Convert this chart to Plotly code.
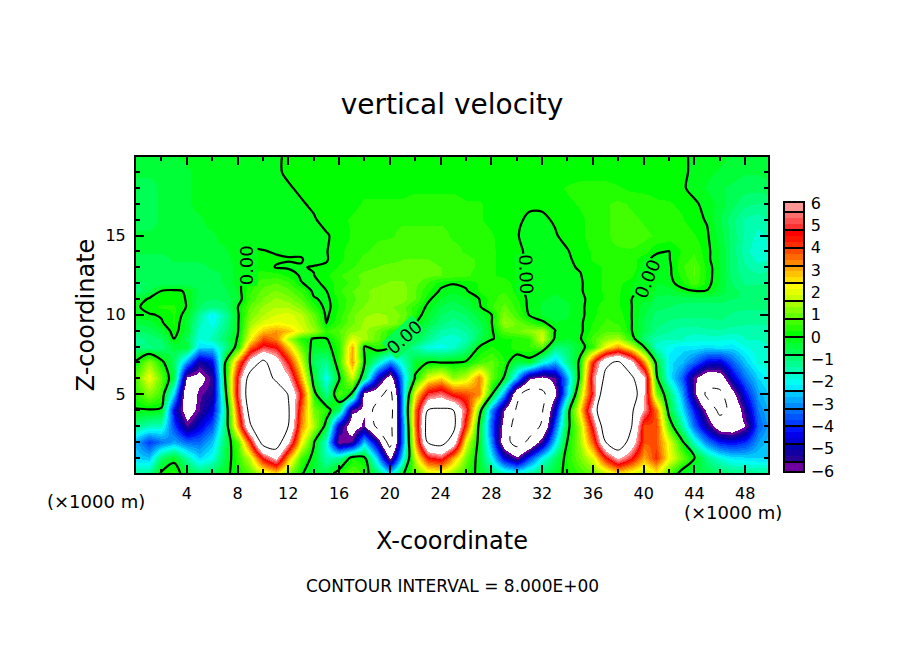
import plotly.graph_objects as go

X = list(range(51))
Y = [0, 1, 2, 3, 4, 5, 6, 7, 8, 8.5, 9, 9.5, 10, 10.5, 11, 11.5, 12, 12.5, 13, 13.5, 14, 15, 16, 17, 18, 19, 20]

W = [
 # y=0
 [-1.3,-1.2,.1,.4,-.4,-.9,-.7,-.2,.3, .8,1.8,2.5,1.2,.1, -.5,-.5,.4, .9,.4,-.8,-2.3,-.1, .8,1.8,2,1.3,.5,-.2, -.8,-1.5,-1.8,-1.3,-.8,-.3,.2, .6,1,1.7,2.5,2,1.5,2.3,.7,-.3, -.5,-.6,-.8,-1,-1.1,-1.2,-1.2],
 # y=1
 [-2.4,-2.6,-.8,-.2,-1.4,-2.4,-1.9,-.5,.5, 1.8,4.7,6.3,3,.6, -.2,-1.5,-1.2, .2,.1,-2.5,-6.2,-2, 1.8,4.5,5,3,1,-.3, -2,-4.5,-5.8,-3.8,-2,-.8,.3, 1.1,2,4.5,6.2,4.8,3,4.2,2.2,1, .02,-1.1,-1.8,-2.2,-2.3,-2.4,-2.4],
 # y=2
 [-2.8,-3.9,-3.3,-2.8,-3.4,-3.4,-2.6,-.7,.8, 4.3,9,9.5,6.2,2.3, .1,-1.8,-6, -5.5,-2.5,-5,-9,-3, 3,8.3,9,7,2,-.2, -3,-7,-9,-7.6,-5.3,-2.3,.05, 1.4,3.8,8,10,7,3.8,3.8,2,.2, -1.7,-3.2,-4.2,-4.4,-4,-2.9,-2.4],
 # y=3
 [-1.1,-1.5,-1.6,-3.8,-5.6,-4.6,-3.6,-1,3.3, 7.8,10,10,8,3.3, 1.5,-.3,-5, -6.8,-5.8,-8.5,-9,-3, 3.5,9,9.5,8.7,4,-.1, -3.5,-6.5,-9,-9,-7.8,-3.5,-.3, 1.6,5,9.5,12,8.3,3.8,4, .6,-1.3,-3.4,-5.2,-6.8,-7,-6,-3.5,-2.7],
 # y=4
 [-.05,-.05,-.1,-4.5,-6.8,-5.6,-4.6,-1.2,4.2, 8.9,10,10,8.3,3.7, 1,.4,-.8, -5.8,-6.2,-9,-9.5,-2.5, 3.5,8,8.3,8,5,.8, -3,-6,-8.2,-9.5,-8.2,-4.7,-.5, 2.5,6.5,11,12,8.5,5.8,3.5, -.4,-2.2,-4.2,-6.3,-8.6,-7.5,-5.3,-3.2,-2.5],
 # y=5
 [.4,1.2,.6,-2.5,-7.5,-5.7,-5.3,-.6,5.2, 9.5,10,10,7.9,4.5, .3,-1.2,.8,-.1, -6.5,-7,-9,-2.5, 2.3,5,5.5,4.3,3.9,3.3,.2, -3,-7.5,-9,-8.6,-6.2,-2.5,1.5, 5,10,11,10,6,1.2,-.8, -2.8,-5.6,-8.5,-8.5,-6.5,-4.3,-2.8,-2.3],
 # y=6
 [.8,2.2,.9,-.6,-6.3,-6.5,-5.4,-.1,5, 9,9.5,7.6,6.3,3, -.4,-2,-.1, 1.8,-.8, -4.5,-6.8,-2.6,.1, 2,2.6,1.3,1.8,3.4,1, -.05,-2.8,-5.8,-6.3,-5.6,-2.8,.4, 5.5,8.5,9.5,8.5,6.3,.2, -2.1,-3.5,-5.8,-7,-6.8,-4.7,-3.3,-2.4,-2],
 # y=7
 [.1,1.3,.2,-.8,-3,-5.2,-4.5,-.1,3.5, 6.6,8.5,6.8,4.6,1.9, -.8,-1.2,.5, 3.2, .05, -1.5,-3,-1.6,-.3, -.02,-.02,-.02, .1,.6,.9,.3, -.5,-.2,-1.8,-2.7,-1.2,.2, 4.5,7.6,8.3,6.5,3.3, -.2,-2.3,-2.6,-3.4,-4.5,-4.6,-3.5,-2.5,-1.8,-1.6],
 # y=8
 [-1,-1.1,-1,-.4,-.3,-2.4,-2.4,-1.2,.3, 3.6,5,4.6,2.7,.9, -.3,-.2,.4, 3, -.05,.5,.1, -.7,-1.3,-1.9,-2,-1.7,-1.1,-.02,.3, .05,.5,.5,.8,-1, -.8,-.3,.5,2.3,3.2,2, .05,-1.7,-2,-2.3,-2.2,-2.3,-2.2,-2.3,-1.9,-1.7,-1.6],
 # y=8.5
 [-1.2,-1,-.8,.02,-.7,-1.9,-1.5,-.8,.05, 2.2,4,3.4,1.6,.3, -.05,-.02, .6,2,1.5,.9,.3, -.2,-.5,-1.2,-1.7,-1.8,-1.5,-.6,-.05, .2,.3,.5,1.9,-.1, -.3,-.05,.7,1.3,1.6,.4, -1,-1.5,-1.6,-1.6,-1.8,-1.8,-1.8,-1.9,-1.6,-1.6,-1.5],
 # y=9
 [-.8,-.7,-.4,.2,-.4,-1.7,-1.7,-1,-.1, 1.8,2.8,3.2,2.8,2,1.4, .5,.8,1.3,1.4,1,.4,.05, -.2,-.9,-1.4,-1.5,-1.3,-.8,-.1, .8,1,1.3,1.6, .02, -.2,-.1, .4,.8,.7,.05, -.6,-1.1,-1.3,-1.5,-1.5,-1.4,-1.4,-1.5,-1.5,-1.5,-1.4],
 # y=9.5
 [-.5,-.4,-.05,.3,-.4,-1.5,-2,-1.2,-.1, 1.4,2,2.2,2.1,1.8,1.1, -.02, .5,1,1.4,1.5,1.3,.8,.02, -.5,-1,-1.2,-1,-.6,-.05, 1.4,1,.6, .1,-.25,-.2,-.08, .3,.6,.5,.05, -.6,-1,-1.1,-1.2,-1.2,-1.2,-1.1,-1.2,-1.3,-1.3,-1.3],
 # y=10
 [-.1,-.05,.05,.3,-.2,-1.3,-2.2,-1.3,-.1, 1.1,1.6,1.9,2,1.7,.9, -.1, .4,1,1.3,1.4,1.3,1,.3, -.3,-.8,-1,-.8,-.4, -.03, 1.2,.6, -.05,-.3,-.4,-.3,-.1, .2,.5,.4,.03, -.5,-.9,-1,-1,-1,-1,-1,-1.1,-1.2,-1.2,-1.2],
 # y=10.5
 [-.1,.2,.3,.3,-.02,-.8,-1.1,-.9,-.03, .9,1.4,1.6,1.6,1.2,.4, -.15, .3,.8,1.1,1.2,1.1,.9,.4, -.1,-.6,-.7,-.5,-.1, .5,.9,.4, -.1,-.3,-.4,-.3,-.1, .2,.4,.3,.03, -.4,-.7,-.8,-.9,-.9,-.9,-.9,-1,-1,-1,-1],
 # y=11
 [-.3,.05,.2,.2,-.03,-.7,-.8,-.7,-.3, .6,1.1,1.4,1.2,.8,.05, -.1, .3,.7,1,1.2,1.3,1.2,.8,.1, -.3,-.5,-.3, -.02, .4,.7,.3, -.1,-.25,-.3,-.25,-.1, .15,.3,.3,.02, -.3,-.6,-.7,-.7,-.7,-.7,-.7,-.8,-.8,-.8,-.8],
 # y=11.5
 [-.9,-.6,.02,.1,-.05,-.6,-.7,-.6,-.2, .5,.9,1.1,.9,.5, -.1, -.01,.5,.8,1,1.2,1.3,1.2,.8,.3, -.05,-.2,-.05, .3,.5,.5,.15, -.1,-.2,-.25,-.2,-.05, .2,.3,.3,.1, -.1,-.4,-.4,-.15, -.02,-.02, -.4,-.7,-.9,-.9,-.9],
 # y=12
 [-.8,-.8,-.7,-.7,-.7,-.7,-.6,-.5,-.15, .4,.7,.8,.6,.02, -.1, .1,.4,.6,.9,1,1.1,1.1,.9,.5,.1,.03,.1,.3,.4,.4,.15, -.1,-.2,-.2,-.15,-.05, .2,.3,.3,.2,.03, -.3,-.15, .2,.7,.15, -.3,-.8,-1.1,-1.1,-1],
 # y=12.5
 [-.7,-.7,-.6,-.6,-.6,-.6,-.6,-.5,-.1, .3,.4,.4,.2, -.05, -.01,.2,.5,.7,.9,1,1,1,1,.9,.8,.7,.6,.4,.3,.2,.1, -.1,-.2,-.2,-.1,-.02, .2,.3,.4,.3,.05, -.2,-.1, .4,.8,.2, -.3,-.9,-1.2,-1.3,-1.2],
 # y=13
 [-.7,-.6,-.6,-.6,-.6,-.6,-.5,-.5,-.1, .2,.15, -.02,-.05, -.02,.02,.05, .3,.5,.7,.8,.9,.9,.9,.9,.8,.7,.6,.5,.3,.2,.15, -.1,-.2,-.15,-.05, .03,.2,.3,.4,.4,.1, -.15,-.1, .5,.8,.2, -.3,-.9,-1.3,-1.5,-1.4],
 # y=13.5
 [-.6,-.6,-.6,-.5,-.5,-.5,-.4,-.4,-.1, .1,.1,.05,.02, .02,-.1,-.03, .2,.4,.6,.7,.7,.8,.8,.8,.7,.6,.6,.5,.3,.2,.1, -.1,-.2,-.15,-.05, .1,.3,.4,.5,.4,.1, -.1,-.03, .4,.6,.1, -.3,-.9,-1.4,-1.7,-1.6],
 # y=14
 [-.5,-.5,-.5,-.5,-.5,-.4,-.3,-.3,-.1, .05,.02, -.03,-.05,-.05,-.05,-.02, .2,.4,.5,.6,.7,.7,.7,.7,.6,.6,.5,.4,.3,.2,.1, -.1,-.15,-.1,-.02, .15,.3,.5,.5,.5,.4,.05, -.01,.3,.5,.1, -.3,-.9,-1.5,-1.8,-1.6],
 # y=15
 [-.5,-.5,-.5,-.45,-.4,-.3,-.3,-.2,-.2,-.2,-.2,-.2,-.15,-.1,-.1,-.03, .1,.3,.4,.5,.5,.6,.6,.6,.6,.5,.5,.4,.3,.15,.02, -.1,-.1,-.03, .1,.2,.4,.5,.6,.7,.6,.5,.4,.5,.3,.05, -.4,-.9,-1.4,-1.7,-1.5],
 # y=16
 [-.6,-.6,-.5,-.4,-.35,-.3,-.2,-.2,-.2,-.2,-.2,-.2,-.15,-.1,-.03, .1,.2,.3,.4,.5,.5,.5,.5,.5,.5,.5,.4,.3,.2,.1,.05, -.05,-.05, .03,.1,.2,.4,.5,.6,.6,.5,.4,.4,.3,.1, -.03,-.5,-1,-1.4,-1.5,-1.3],
 # y=17
 [-.6,-.6,-.5,-.4,-.3,-.2,-.2,-.2,-.2,-.2,-.2,-.15,-.1,-.03, .05,.15,.2,.2,.3,.3,.3,.3,.4,.4,.4,.4,.3,.3,.2,.15,.1,.05,.05,.1,.2,.3,.4,.5,.6,.5,.4,.3,.3,.2,.05, -.1,-.4,-.7,-1,-1.1,-1],
 # y=18
 [-.6,-.6,-.5,-.4,-.3,-.2,-.2,-.2,-.2,-.2,-.15,-.1,-.03, .05,.1,.1,.15,.2,.2,.2,.2,.2,.2,.2,.2,.2,.15,.15,.1,.1,.1,.1,.15,.2,.3,.4,.4,.4,.3,.2,.2,.2,.15,.05, -.1,-.3,-.5,-.6,-.7,-.7,-.6],
 # y=19
 [-.5,-.5,-.5,-.4,-.3,-.2,-.2,-.2,-.2,-.15,-.1,-.05, .05,.1,.1,.1,.1,.1,.1,.1,.15,.15,.15,.15,.15,.15,.1,.1,.1,.1,.1,.1,.1,.1,.1,.1,.1,.1,.1,.1,.1,.1,.1,.1, -.1,-.2,-.3,-.4,-.5,-.5,-.4],
 # y=20
 [-.3,-.3,-.3,-.3,-.2,-.2,-.2,-.2,-.2,-.15,-.1,-.05, .05,.1,.1,.1,.1,.1,.1,.1,.1,.1,.1,.1,.1,.1,.1,.1,.1,.1,.1,.1,.1,.1,.1,.1,.1,.1,.1,.1,.1,.1,.1,.05, -.05,-.1,-.2,-.3,-.3,-.3,-.3],
]

X_TICKS = [4, 8, 12, 16, 20, 24, 28, 32, 36, 40, 44, 48]
X_MINOR = [2, 6, 10, 14, 18, 22, 26, 30, 34, 38, 42, 46]
Y_TICKS = [5, 10, 15]
Y_MINOR = [1, 2, 3, 4, 6, 7, 8, 9, 11, 12, 13, 14, 16, 17, 18, 19]
BAR_LABELS = [-6, -5, -4, -3, -2, -1, 0, 1, 2, 3, 4, 5, 6]
BAR_LINES = [-5.6, -4.8, -4.0, -3.2, -2.4, -1.6, -0.8, 0, 0.8, 1.6, 2.4, 3.2, 4.0, 4.8, 5.6]

BAND_EDGES = [-6.0] + [round(-5.6 + i * 0.8 / 3, 4) for i in range(43)] + [6.0]
BAND_COLORS = [
    "rgb(110,0,160)",
    "rgb(40,0,150)", "rgb(20,0,160)", "rgb(0,0,175)",
    "rgb(0,0,210)", "rgb(0,0,235)", "rgb(0,20,255)",
    "rgb(0,60,255)", "rgb(0,85,255)", "rgb(0,110,255)",
    "rgb(0,140,255)", "rgb(0,170,255)", "rgb(0,200,255)",
    "rgb(0,235,255)", "rgb(0,255,240)", "rgb(0,255,210)",
    "rgb(0,255,175)", "rgb(0,255,145)", "rgb(0,255,115)",
    "rgb(0,255,85)", "rgb(0,255,55)", "rgb(0,255,25)",
    "rgb(0,255,0)", "rgb(35,255,0)", "rgb(65,255,0)",
    "rgb(100,255,0)", "rgb(130,255,0)", "rgb(165,255,0)",
    "rgb(200,255,0)", "rgb(230,255,0)", "rgb(255,255,0)",
    "rgb(255,225,0)", "rgb(255,195,0)", "rgb(255,165,0)",
    "rgb(255,135,0)", "rgb(255,105,0)", "rgb(255,75,0)",
    "rgb(255,45,0)", "rgb(255,20,0)", "rgb(255,0,0)",
    "rgb(255,50,50)", "rgb(255,80,80)", "rgb(255,110,110)",
    "rgb(255,150,150)",
]

ZLIM = 6.04
def norm(v):
    return (v + ZLIM) / (2 * ZLIM)

scale = [[0, "white"], [norm(-6.0), "white"]]
for i, c in enumerate(BAND_COLORS):
    scale.append([norm(BAND_EDGES[i]), c])
    scale.append([norm(BAND_EDGES[i + 1]), c])
scale += [[norm(6.0), "white"], [1, "white"]]

FONT = "DejaVu Sans"
BLACK = "black"
bar_common = dict(x=1.0253, xanchor="left", xpad=0, y=0.003, yanchor="bottom", ypad=0,
                  len=0.855, lenmode="fraction", thickness=20, thicknessmode="pixels",
                  outlinecolor=BLACK, outlinewidth=2)

fig = go.Figure()
fig.add_trace(go.Heatmap(
    x=X, y=Y, z=W, zmin=-ZLIM, zmax=ZLIM, colorscale=scale, zsmooth="best", hoverinfo="skip",
    colorbar=dict(tickmode="array", tickvals=BAR_LABELS, ticks="outside", ticklen=3,
                  tickcolor="rgba(0,0,0,0)", tickfont=dict(family=FONT, size=16, color=BLACK),
                  **bar_common)))
fig.add_trace(go.Heatmap(
    x=X, y=Y, z=W, zmin=-ZLIM, zmax=ZLIM, colorscale=scale, zsmooth="best", hoverinfo="skip",
    colorbar=dict(tickmode="array", tickvals=BAR_LINES, ticktext=[""] * len(BAR_LINES),
                  ticks="inside", ticklen=20, tickwidth=2, tickcolor=BLACK, **bar_common)))

for level, width, dash in [(0, 2.2, "solid"), (8, 1, "solid"), (-8, 1, "dash")]:
    fig.add_trace(go.Contour(
        x=X, y=Y, z=W, autocontour=False, showscale=False, hoverinfo="skip",
        contours=dict(coloring="none", start=level, end=level, size=1),
        line=dict(color=BLACK, width=width, dash=dash, smoothing=0.9)))

axis_common = dict(showgrid=False, zeroline=False, showline=True, linecolor=BLACK, linewidth=2,
                   mirror="allticks", ticks="inside", ticklen=8, tickwidth=2, tickcolor=BLACK,
                   ticklabelstandoff=5, tickfont=dict(family=FONT, size=16, color=BLACK))
minor_common = dict(ticks="inside", ticklen=4, tickwidth=1.5, tickcolor=BLACK, showgrid=False)

fig.update_layout(
    width=904, height=654, margin=dict(l=136, r=136, t=157, b=181, pad=0, autoexpand=False),
    paper_bgcolor="white", plot_bgcolor="white", showlegend=False, font=dict(family=FONT, color=BLACK),
    title=dict(text="vertical velocity", x=0.5, xanchor="center", xref="paper", y=1 - 104 / 654,
               yanchor="middle", yref="container", font=dict(family=FONT, size=28, color=BLACK)),
    xaxis=dict(range=[0, 49.8], tickmode="array", tickvals=X_TICKS,
               minor=dict(tickmode="array", tickvals=X_MINOR, **minor_common),
               title=dict(text="X-coordinate", standoff=30, font=dict(family=FONT, size=24, color=BLACK)),
               **axis_common),
    yaxis=dict(range=[0.03, 19.95], tickmode="array", tickvals=Y_TICKS,
               minor=dict(tickmode="array", tickvals=Y_MINOR, **minor_common),
               title=dict(text="Z-coordinate", standoff=4, font=dict(family=FONT, size=24, color=BLACK)),
               **axis_common),
)

def px_note(text, x, y, size):
    fig.add_annotation(text=text, xref="paper", yref="paper", x=(x - 136) / 632, y=(473 - y) / 316,
                       xanchor="center", yanchor="middle", showarrow=False,
                       font=dict(family=FONT, size=size, color=BLACK))

px_note("(×1000 m)", 96, 501, 18)
px_note("(×1000 m)", 733, 512, 18)
px_note("CONTOUR INTERVAL = 8.000E+00", 452, 586, 17)

for x, y, ang, bg in [(8.72, 13.1, -90, "rgb(0,255,25)"), (21.1, 8.6, -42, "rgb(0,255,85)"),
                      (30.75, 12.55, 88, "rgb(0,255,25)"), (40.3, 12.3, -68, "rgb(0,255,25)")]:
    fig.add_annotation(text="0.00", x=x, y=y, xref="x", yref="y", textangle=ang, showarrow=False,
                       bgcolor=bg, borderpad=0, font=dict(family=FONT, size=18, color=BLACK))

fig.write_html("out.html", config={"displayModeBar": False}, post_script="document.body.style.margin='0';")
